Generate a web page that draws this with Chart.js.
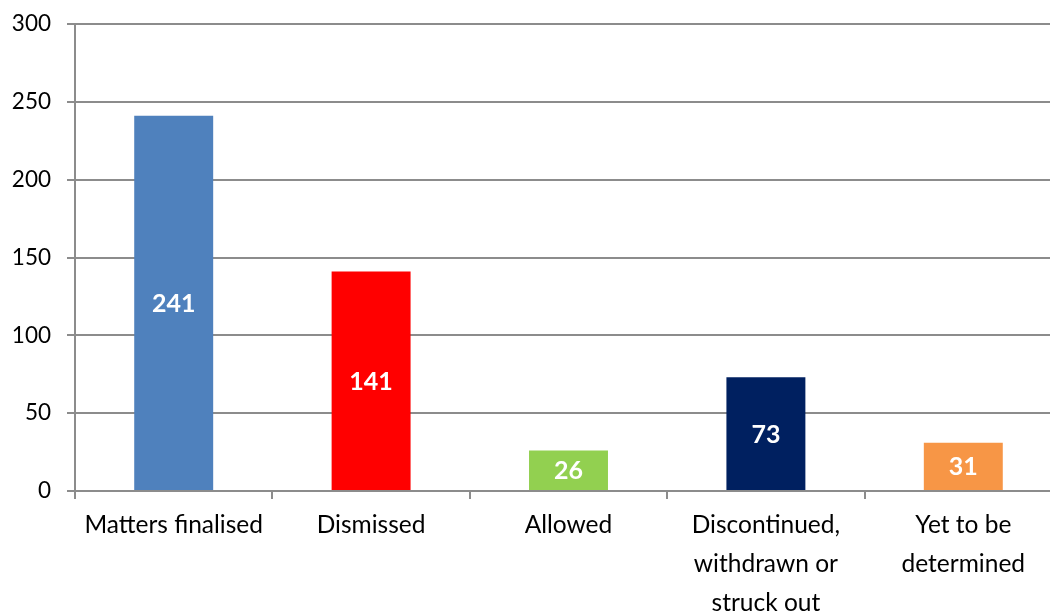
<!DOCTYPE html>
<html>
<head>
<meta charset="utf-8">
<script src="https://cdn.jsdelivr.net/npm/chart.js@4"></script>
<style>
html,body{margin:0;padding:0;background:#fff;overflow:hidden;width:1050px;height:614px;}
#wrap{width:1062px;height:614px;}
</style>
</head>
<body>
<div id="wrap"><canvas id="c" width="1062" height="614"></canvas></div>
<script>
const categories = [
  "Matters finalised",
  "Dismissed",
  "Allowed",
  ["Discontinued,", "withdrawn or", "struck out"],
  ["Yet to be", "determined"]
];
const values = [241, 141, 26, 73, 31];
const barColors = ["#4F81BD", "#FF0000", "#92D050", "#002060", "#F79646"];
const yTicks = [0, 50, 100, 150, 200, 250, 300];

const FONT = "Lato, 'Open Sans', sans-serif";

const valueLabels = {
  id: "valueLabels",
  afterDatasetsDraw(chart) {
    const ctx = chart.ctx;
    const meta = chart.getDatasetMeta(0);
    ctx.save();
    ctx.fillStyle = "#ffffff";
    ctx.font = "bold 25px " + FONT;
    ctx.textAlign = "center";
    ctx.textBaseline = "middle";
    meta.data.forEach((bar, i) => {
      const p = bar.getProps(["x", "y", "base"], true);
      ctx.fillText(String(values[i]), p.x, (p.y + p.base) / 2 + 1);
    });
    ctx.restore();
  }
};

new Chart(document.getElementById("c"), {
  type: "bar",
  data: {
    labels: categories,
    datasets: [{
      data: values,
      backgroundColor: barColors,
      borderWidth: 0,
      barPercentage: 0.4,
      categoryPercentage: 1.0
    }]
  },
  options: {
    responsive: false,
    animation: false,
    layout: { padding: { top: 24, right: 0, left: 0, bottom: 0 } },
    plugins: { legend: { display: false }, tooltip: { enabled: false } },
    scales: {
      x: {
        grid: { display: true, drawOnChartArea: false, drawTicks: true, tickLength: 8, color: "#8c8c8c", lineWidth: 2, offset: true },
        border: { display: true, color: "#8c8c8c", width: 2 },
        ticks: { color: "#000", font: { family: FONT, size: 24.5, lineHeight: 1.58 }, padding: 7, maxRotation: 0, autoSkip: false },
        afterFit(s) { s.height = 123; s.paddingLeft = 0; s.paddingRight = 0; }
      },
      y: {
        min: 0, max: 300,
        afterBuildTicks(s) { s.ticks = yTicks.map(v => ({ value: v })); },
        grid: { color: "#8c8c8c", lineWidth: 2, tickLength: 8 },
        border: { display: true, color: "#8c8c8c", width: 2 },
        ticks: { color: "#000", font: { family: FONT, size: 22.5 }, padding: 16 },
        afterFit(s) { s.width = 75; s.paddingTop = 0; s.paddingBottom = 0; }
      }
    }
  },
  plugins: [valueLabels]
});
</script>
</body>
</html>
